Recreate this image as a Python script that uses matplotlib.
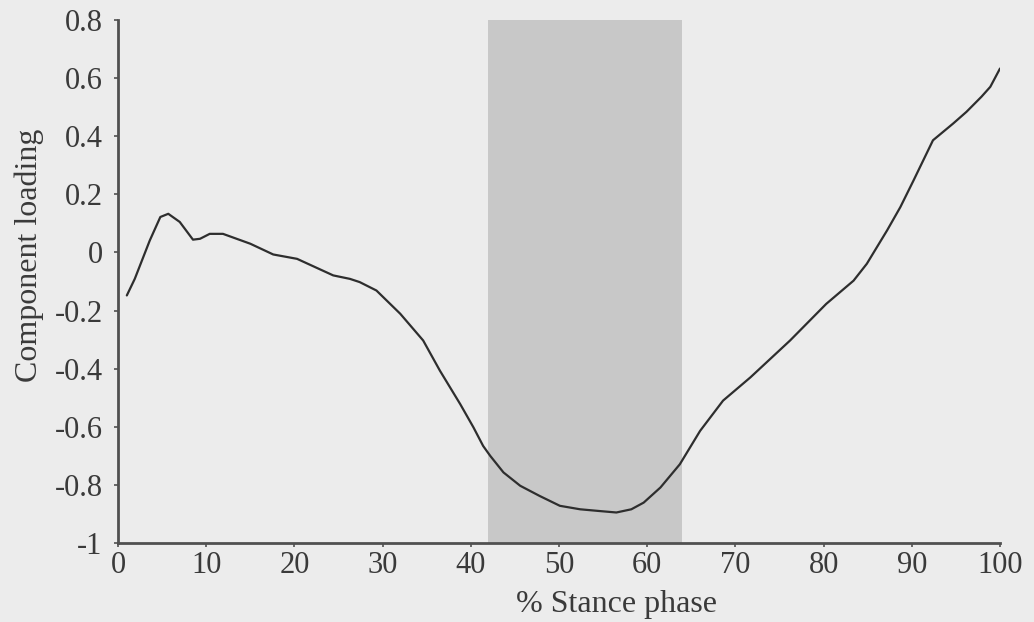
import matplotlib
matplotlib.use("Agg")
import matplotlib.pyplot as plt

# Data
stance_pct = [1.0, 1.9, 3.6, 4.8, 5.7, 7.0, 8.5, 9.3, 10.4, 11.9, 15.0, 17.6, 20.3,
              24.4, 26.3, 27.4, 29.3, 32.0, 34.6, 36.5, 38.8, 40.3, 41.4, 42.2,
              43.7, 45.6, 47.8, 50.1, 52.4, 54.6, 56.5, 58.2, 59.6, 61.5, 63.7, 66.0,
              68.6, 71.7, 76.2, 80.3, 83.4, 84.9, 87.2, 88.7, 90.2, 92.4, 94.7,
              96.2, 97.9, 98.9, 100.0]
loading = [-0.148, -0.091, 0.041, 0.122, 0.133, 0.105, 0.044, 0.047, 0.064, 0.064,
           0.030, -0.007, -0.022, -0.079, -0.091, -0.102, -0.131, -0.211, -0.303,
           -0.407, -0.522, -0.602, -0.666, -0.700, -0.757, -0.803, -0.838,
           -0.872, -0.884, -0.890, -0.895, -0.884, -0.861, -0.809, -0.729, -0.614,
           -0.510, -0.430, -0.303, -0.177, -0.097, -0.039, 0.076, 0.156, 0.248,
           0.386, 0.444, 0.484, 0.536, 0.570, 0.633]
shade_range = [42, 64]
x_ticks = [0, 10, 20, 30, 40, 50, 60, 70, 80, 90, 100]
y_ticks = [-1, -0.8, -0.6, -0.4, -0.2, 0, 0.2, 0.4, 0.6, 0.8]
y_tick_labels = ["-1", "-0.8", "-0.6", "-0.4", "-0.2", "0", "0.2", "0.4", "0.6", "0.8"]

bg = "#ececec"
plt.rcParams["font.family"] = ["Liberation Serif", "DejaVu Serif"]

fig = plt.figure(figsize=(10.34, 6.22), dpi=100, facecolor=bg)
ax = fig.add_axes([118/1034, 1-543/622, (1000-118)/1034, (543-20)/622])
ax.set_facecolor(bg)

ax.axvspan(shade_range[0], shade_range[1], ymin=0, ymax=1, color="#c8c8c8", lw=0, zorder=1)
ax.plot(stance_pct, loading, color="#2e2e2e", lw=1.6, zorder=3,
        solid_joinstyle="round", solid_capstyle="round")

ax.set_xlim(0, 100)
ax.set_ylim(-1, 0.8)
ax.set_xticks(x_ticks)
ax.set_xticklabels([str(t) for t in x_ticks])
ax.set_yticks(y_ticks)
ax.set_yticklabels(y_tick_labels)

for s in ["top", "right"]:
    ax.spines[s].set_visible(False)
for s in ["left", "bottom"]:
    ax.spines[s].set_color("#505050")
    ax.spines[s].set_linewidth(2.0)
    ax.spines[s].set_zorder(4)

ax.tick_params(axis="both", direction="out", length=3, width=1.2, color="#505050",
               labelsize=22, labelcolor="#3a3a3a")
ax.tick_params(axis="y", pad=8)
ax.tick_params(axis="x", pad=3)

ax.set_xlabel("% Stance phase", fontsize=23, color="#3a3a3a")
ax.set_ylabel("Component loading", fontsize=23, color="#3a3a3a")
ax.xaxis.set_label_coords((616-118)/882, -0.09)
ax.yaxis.set_label_coords((44-118)/882, (543-255)/523)

fig.savefig("out.png", dpi=100, facecolor=bg)
